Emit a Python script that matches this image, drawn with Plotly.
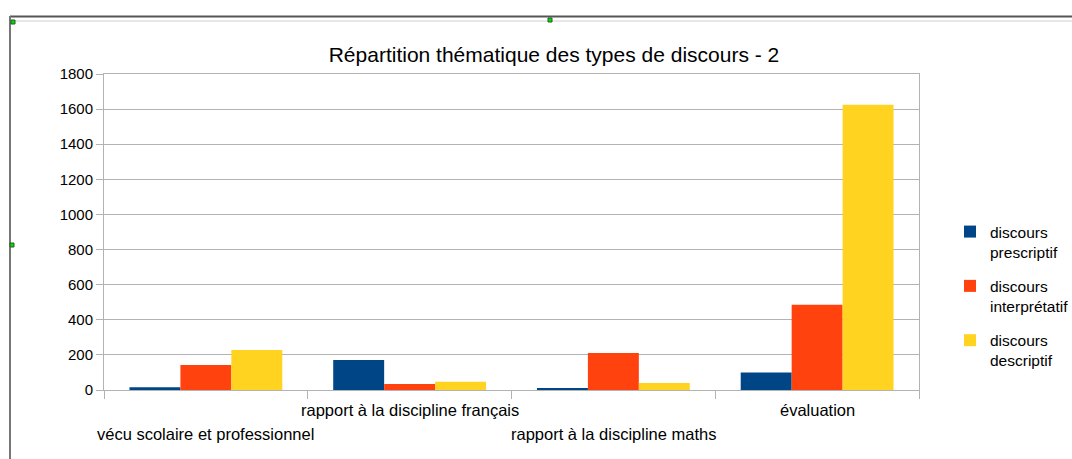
import plotly.graph_objects as go

categories = ["vécu scolaire et professionnel", "rapport à la discipline français",
              "rapport à la discipline maths", "évaluation"]
series_names = ["discours<br>prescriptif", "discours<br>interprétatif", "discours<br>descriptif"]
prescriptif = [15, 171, 11, 99]
interpretatif = [142, 34, 211, 486]
descriptif = [228, 47, 40, 1625]
colors = ["#004586", "#ff420e", "#ffd320"]
y_ticks = [0, 200, 400, 600, 800, 1000, 1200, 1400, 1600, 1800]
title_text = "Répartition thématique des types de discours - 2"

FONT = "Liberation Sans, Arial, sans-serif"
GRID = "#b3b3b3"

fig = go.Figure()
for name, vals, col in zip(series_names, [prescriptif, interpretatif, descriptif], colors):
    fig.add_trace(go.Bar(x=categories, y=vals, name=name, legendgroup=name,
                         marker=dict(color=col, line=dict(width=0))))

# staggered category labels
label_rows = [-0.139, -0.063]
for i, c in enumerate(categories):
    fig.add_annotation(x=c, xref="x", y=label_rows[i % 2], yref="paper", text=c,
                       showarrow=False, yanchor="middle", xanchor="center",
                       font=dict(family=FONT, size=16.5, color="#000000"))

W, H = 1072, 459
PW, PH = 815, 316


def px(x):
    return (x - 104) / PW


def py(y):
    return 1 - (y - 74) / PH


# outer frame lines
fig.add_shape(type="line", xref="paper", yref="paper", x0=px(10), x1=px(1072),
              y0=py(16.5), y1=py(16.5), line=dict(color="#555555", width=2))
fig.add_shape(type="line", xref="paper", yref="paper", x0=px(14), x1=px(1072),
              y0=py(21), y1=py(21), line=dict(color="#d0d0d0", width=1))
fig.add_shape(type="line", xref="paper", yref="paper", x0=px(10), x1=px(10),
              y0=py(16), y1=py(459), line=dict(color="#777777", width=2))
# selection handles
for hx, hy in [(550, 20), (13, 22), (12, 245)]:
    fig.add_shape(type="rect", xref="paper", yref="paper", x0=px(hx - 2), x1=px(hx + 2),
                  y0=py(hy + 2), y1=py(hy - 2), fillcolor="#00dd00",
                  line=dict(color="#2a5a2a", width=1))

fig.update_layout(
    width=W, height=H,
    margin=dict(l=104, r=153, t=74, b=69, autoexpand=False),
    paper_bgcolor="white", plot_bgcolor="white",
    barmode="group", bargap=0.25, bargroupgap=0,
    font=dict(family=FONT, size=16, color="#000000"),
    title=dict(text=title_text, x=554/W, xanchor="center", y=1-55/H, yanchor="middle",
               font=dict(family=FONT, size=21, color="#000000")),
    legend=dict(x=px(950), xanchor="left", y=py(215), yanchor="top",
                font=dict(family=FONT, size=15.5, color="#000000"),
                tracegroupgap=11, valign="top", itemwidth=30, bgcolor="rgba(0,0,0,0)"),
    showlegend=True,
)
fig.update_xaxes(type="category", range=[-0.5, 3.5], showticklabels=False,
                 tickson="boundaries", ticks="outside", ticklen=8, tickcolor=GRID,
                 showline=True, linecolor=GRID, linewidth=1, mirror=True, showgrid=False,
                 automargin=False)
fig.update_yaxes(range=[0, 1800], tickvals=y_ticks, ticks="outside", ticklen=7, tickcolor=GRID,
                 showgrid=True, gridcolor=GRID, gridwidth=1, showline=True, linecolor=GRID,
                 linewidth=1, mirror=True, zeroline=False, automargin=False,
                 tickfont=dict(family=FONT, size=15, color="#000000"))

fig.write_html("out.html", config={"displayModeBar": False},
               post_script="document.body.style.margin='0';document.body.style.overflow='hidden';")
